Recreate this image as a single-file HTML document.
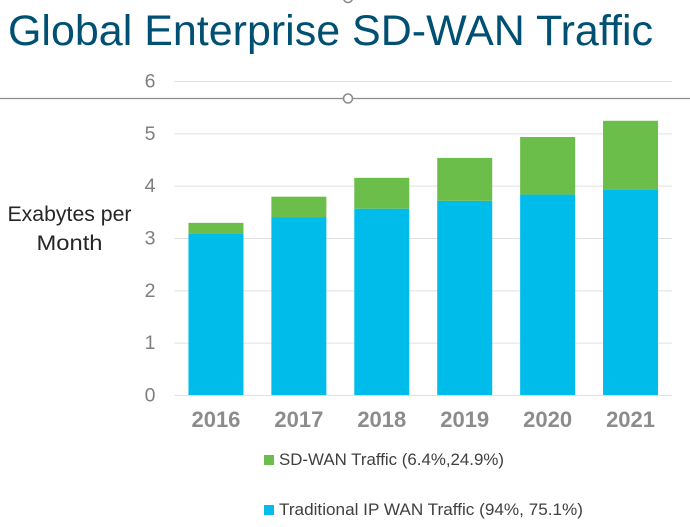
<!DOCTYPE html>
<html lang="en">
<head>
<meta charset="utf-8">
<title>Global Enterprise SD-WAN Traffic</title>
<style>
html,body{margin:0;padding:0;background:#fff;}
svg{display:block;font-family:"Liberation Sans",sans-serif;}
</style>
</head>
<body>
<svg id="chart" width="690" height="527" viewBox="0 0 690 527" xmlns="http://www.w3.org/2000/svg">
  <rect x="0" y="0" width="690" height="527" fill="#ffffff"/>
  <text x="8" y="45" font-size="43" fill="#005073" textLength="645" lengthAdjust="spacingAndGlyphs">Global Enterprise SD-WAN Traffic</text>
  <g id="grid"></g>
  <g id="bars"></g>
  <g id="yticks"></g>
  <g id="xticks"></g>
  <line x1="0" y1="98.5" x2="690" y2="98.5" stroke="#8c8c8c" stroke-width="1.2"/>
  <circle cx="348" cy="98.5" r="4.5" fill="#ffffff" stroke="#8c8c8c" stroke-width="1.6"/>
  <circle cx="348" cy="-2" r="4.5" fill="#ffffff" stroke="#8c8c8c" stroke-width="1.6"/>
  <text x="69.5" y="221" font-size="21" fill="#262626" text-anchor="middle" textLength="124" lengthAdjust="spacingAndGlyphs">Exabytes per</text>
  <text x="69.5" y="250" font-size="21" fill="#262626" text-anchor="middle" textLength="66" lengthAdjust="spacingAndGlyphs">Month</text>
  <rect x="264" y="455" width="10" height="10" fill="#6cbe4a"/>
  <text x="279" y="465" font-size="16.5" fill="#404040" textLength="225" lengthAdjust="spacingAndGlyphs">SD-WAN Traffic (6.4%,24.9%)</text>
  <rect x="264" y="505" width="10" height="10" fill="#00bceb"/>
  <text x="279" y="515" font-size="16.5" fill="#404040" textLength="304" lengthAdjust="spacingAndGlyphs">Traditional IP WAN Traffic (94%, 75.1%)</text>
</svg>
<script>
const categories = ['2016', '2017', '2018', '2019', '2020', '2021'];
const traditionalValues = [3.09, 3.40, 3.56, 3.71, 3.83, 3.93];
const sdwanValues = [0.20, 0.39, 0.59, 0.82, 1.10, 1.31];
const yTickLabels = [0, 1, 2, 3, 4, 5, 6];

const NS = 'http://www.w3.org/2000/svg';
const plotLeft = 174.5, plotRight = 672, plotBottom = 395, plotTop = 81, yMax = 6;
const bandWidth = (plotRight - plotLeft) / categories.length;
const barWidth = 55;
function yScale(v) { return plotBottom - (v / yMax) * (plotBottom - plotTop); }
function xBand(i) { return plotLeft + bandWidth * i + bandWidth / 2; }
function make(tag, attrs, parent, text) {
  const el = document.createElementNS(NS, tag);
  for (const k in attrs) el.setAttribute(k, attrs[k]);
  if (text !== undefined) el.textContent = text;
  document.getElementById(parent).appendChild(el);
  return el;
}

yTickLabels.forEach(function (t) {
  const y = yScale(t);
  const line = make('line', { x1: plotLeft, x2: plotRight, y1: y + 0.5, y2: y + 0.5, stroke: '#e0e0e0', 'stroke-width': 1 }, 'grid');
  
  
  const label = make('text', { x: 150, y: y + 6.5, 'font-size': 19.5, fill: '#7f7f7f', 'text-anchor': 'middle' }, 'yticks', t);
  
  
});

categories.forEach(function (c, i) {
  const x = xBand(i) - barWidth / 2;
  const base = traditionalValues[i];
  const total = base + sdwanValues[i];
  const lower = make('rect', { x: x, y: yScale(base), width: barWidth, height: yScale(0) - yScale(base), fill: '#00bceb' }, 'bars');
  
  
  const upper = make('rect', { x: x, y: yScale(total), width: barWidth, height: yScale(base) - yScale(total), fill: '#6cbe4a' }, 'bars');
  
  
  const label = make('text', { x: xBand(i), y: 427, 'font-size': 22, 'font-weight': 'bold', fill: '#8c8c8c', 'text-anchor': 'middle' }, 'xticks', c);
  
  
});
</script>
</body>
</html>
